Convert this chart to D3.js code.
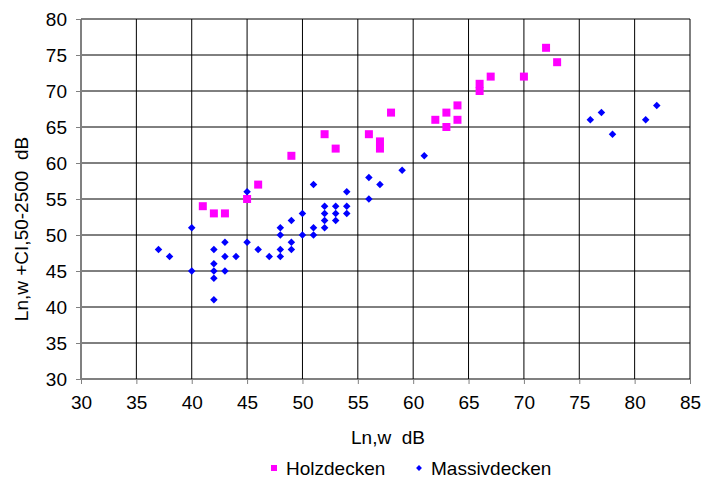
<!DOCTYPE html>
<html>
<head>
<meta charset="utf-8">
<script src="https://cdn.jsdelivr.net/npm/d3@7"></script>
<style>
  body { margin: 0; background: #fff; }
  svg text { font-family: "Liberation Sans", Arial, sans-serif; fill: #000; white-space: pre; }
</style>
</head>
<body>
<div id="chart"></div>
<script>
// data
let holzX = [41, 42, 43, 45, 46, 49, 52, 53, 56, 57, 57, 58, 62, 63, 63, 64, 64, 66, 66, 67, 70, 72, 73];
let holzY = [54, 53, 53, 55, 57, 61, 64, 62, 64, 63, 62, 67, 66, 67, 65, 68, 66, 71, 70, 72, 72, 76, 74];

let massivX = [37, 38, 40, 40, 42, 42, 42, 42, 42, 43, 43, 43, 44, 45, 45, 46, 47, 48, 48, 48, 48,
  49, 49, 49, 50, 50, 51, 51, 51, 52, 52, 52, 52, 53, 53, 53, 54, 54, 54, 56, 56, 57, 59, 61,
  76, 77, 78, 81, 82];
let massivY = [48, 47, 51, 45, 48, 46, 45, 44, 41, 49, 47, 45, 47, 56, 49, 48, 47, 51, 50, 48, 47,
  52, 49, 48, 53, 50, 57, 51, 50, 54, 53, 52, 51, 54, 53, 52, 56, 54, 53, 58, 55, 57, 59, 61,
  66, 67, 64, 66, 68];

let xTicks = [30, 35, 40, 45, 50, 55, 60, 65, 70, 75, 80, 85];
let yTicks = [30, 35, 40, 45, 50, 55, 60, 65, 70, 75, 80];

let w = 703, h = 479;
let plotLeft = 81, plotRight = 690, plotTop = 19, plotBottom = 379;
let fontSize = "19px";

let svg = d3.select("#chart").append("svg")
  .attr("width", w)
  .attr("height", h);

let xScale = d3.scaleLinear().domain([30, 85]).range([plotLeft, plotRight]);
let yScale = d3.scaleLinear().domain([30, 80]).range([plotBottom, plotTop]);

// grid
svg.append("g").selectAll("line").data(yTicks).enter().append("line")
  .attr("x1", plotLeft).attr("x2", plotRight)
  .attr("y1", d => yScale(d)).attr("y2", d => yScale(d))
  .attr("stroke", "#000").attr("stroke-width", 1);
svg.append("g").selectAll("line").data(xTicks).enter().append("line")
  .attr("y1", plotTop).attr("y2", plotBottom)
  .attr("x1", d => xScale(d)).attr("x2", d => xScale(d))
  .attr("stroke", "#000").attr("stroke-width", 1);

// axes
let xAxis = d3.axisBottom(xScale).tickValues(xTicks).tickSize(5).tickPadding(12);
let xAxisGroup = svg.append("g")
  .attr("transform", "translate(0," + plotBottom + ")")
  .call(xAxis);
let yAxis = d3.axisLeft(yScale).tickValues(yTicks).tickSize(5).tickPadding(9);
let yAxisGroup = svg.append("g")
  .attr("transform", "translate(" + plotLeft + ",0)")
  .call(yAxis);

[xAxisGroup, yAxisGroup].forEach(function(g){
  g.select(".domain").attr("stroke", "#808080");
  g.selectAll(".tick line").attr("stroke", "#808080");
  g.selectAll("text").style("font-size", fontSize)
    .style("font-family", "Liberation Sans, Arial, sans-serif");
});

// axis titles
svg.append("text")
  .attr("x", 388).attr("y", 444)
  .attr("text-anchor", "middle")
  .style("font-size", fontSize)
  .text("Ln,w  dB");

svg.append("text")
  .attr("transform", "translate(28,229) rotate(-90)")
  .attr("text-anchor", "middle")
  .style("font-size", fontSize)
  .text("Ln,w +CI,50-2500  dB");

// points
let holz = holzX.map((x, i) => ({x: x, y: holzY[i]}));
let massiv = massivX.map((x, i) => ({x: x, y: massivY[i]}));

svg.append("g").selectAll("rect").data(holz).enter().append("rect")
  .attr("x", d => xScale(d.x) - 4)
  .attr("y", d => yScale(d.y) - 4)
  .attr("width", 8).attr("height", 8)
  .attr("fill", "#ff00ff");

let diamond = d3.symbol().type(d3.symbolDiamond2).size(36);
svg.append("g").selectAll("path").data(massiv).enter().append("path")
  .attr("d", diamond)
  .attr("transform", d => "translate(" + xScale(d.x) + "," + yScale(d.y) + ")")
  .attr("fill", "#0000ff");

// legend
let legend = svg.append("g");
legend.append("rect").attr("x", 271).attr("y", 465).attr("width", 6).attr("height", 6).attr("fill", "#ff00ff");
legend.append("text").attr("x", 286).attr("y", 475).style("font-size", fontSize).text("Holzdecken");
legend.append("path").attr("d", d3.symbol().type(d3.symbolDiamond2).size(22))
  .attr("transform", "translate(419,468)").attr("fill", "#0000ff");
legend.append("text").attr("x", 431).attr("y", 475).style("font-size", fontSize).text("Massivdecken");
</script>
</body>
</html>
